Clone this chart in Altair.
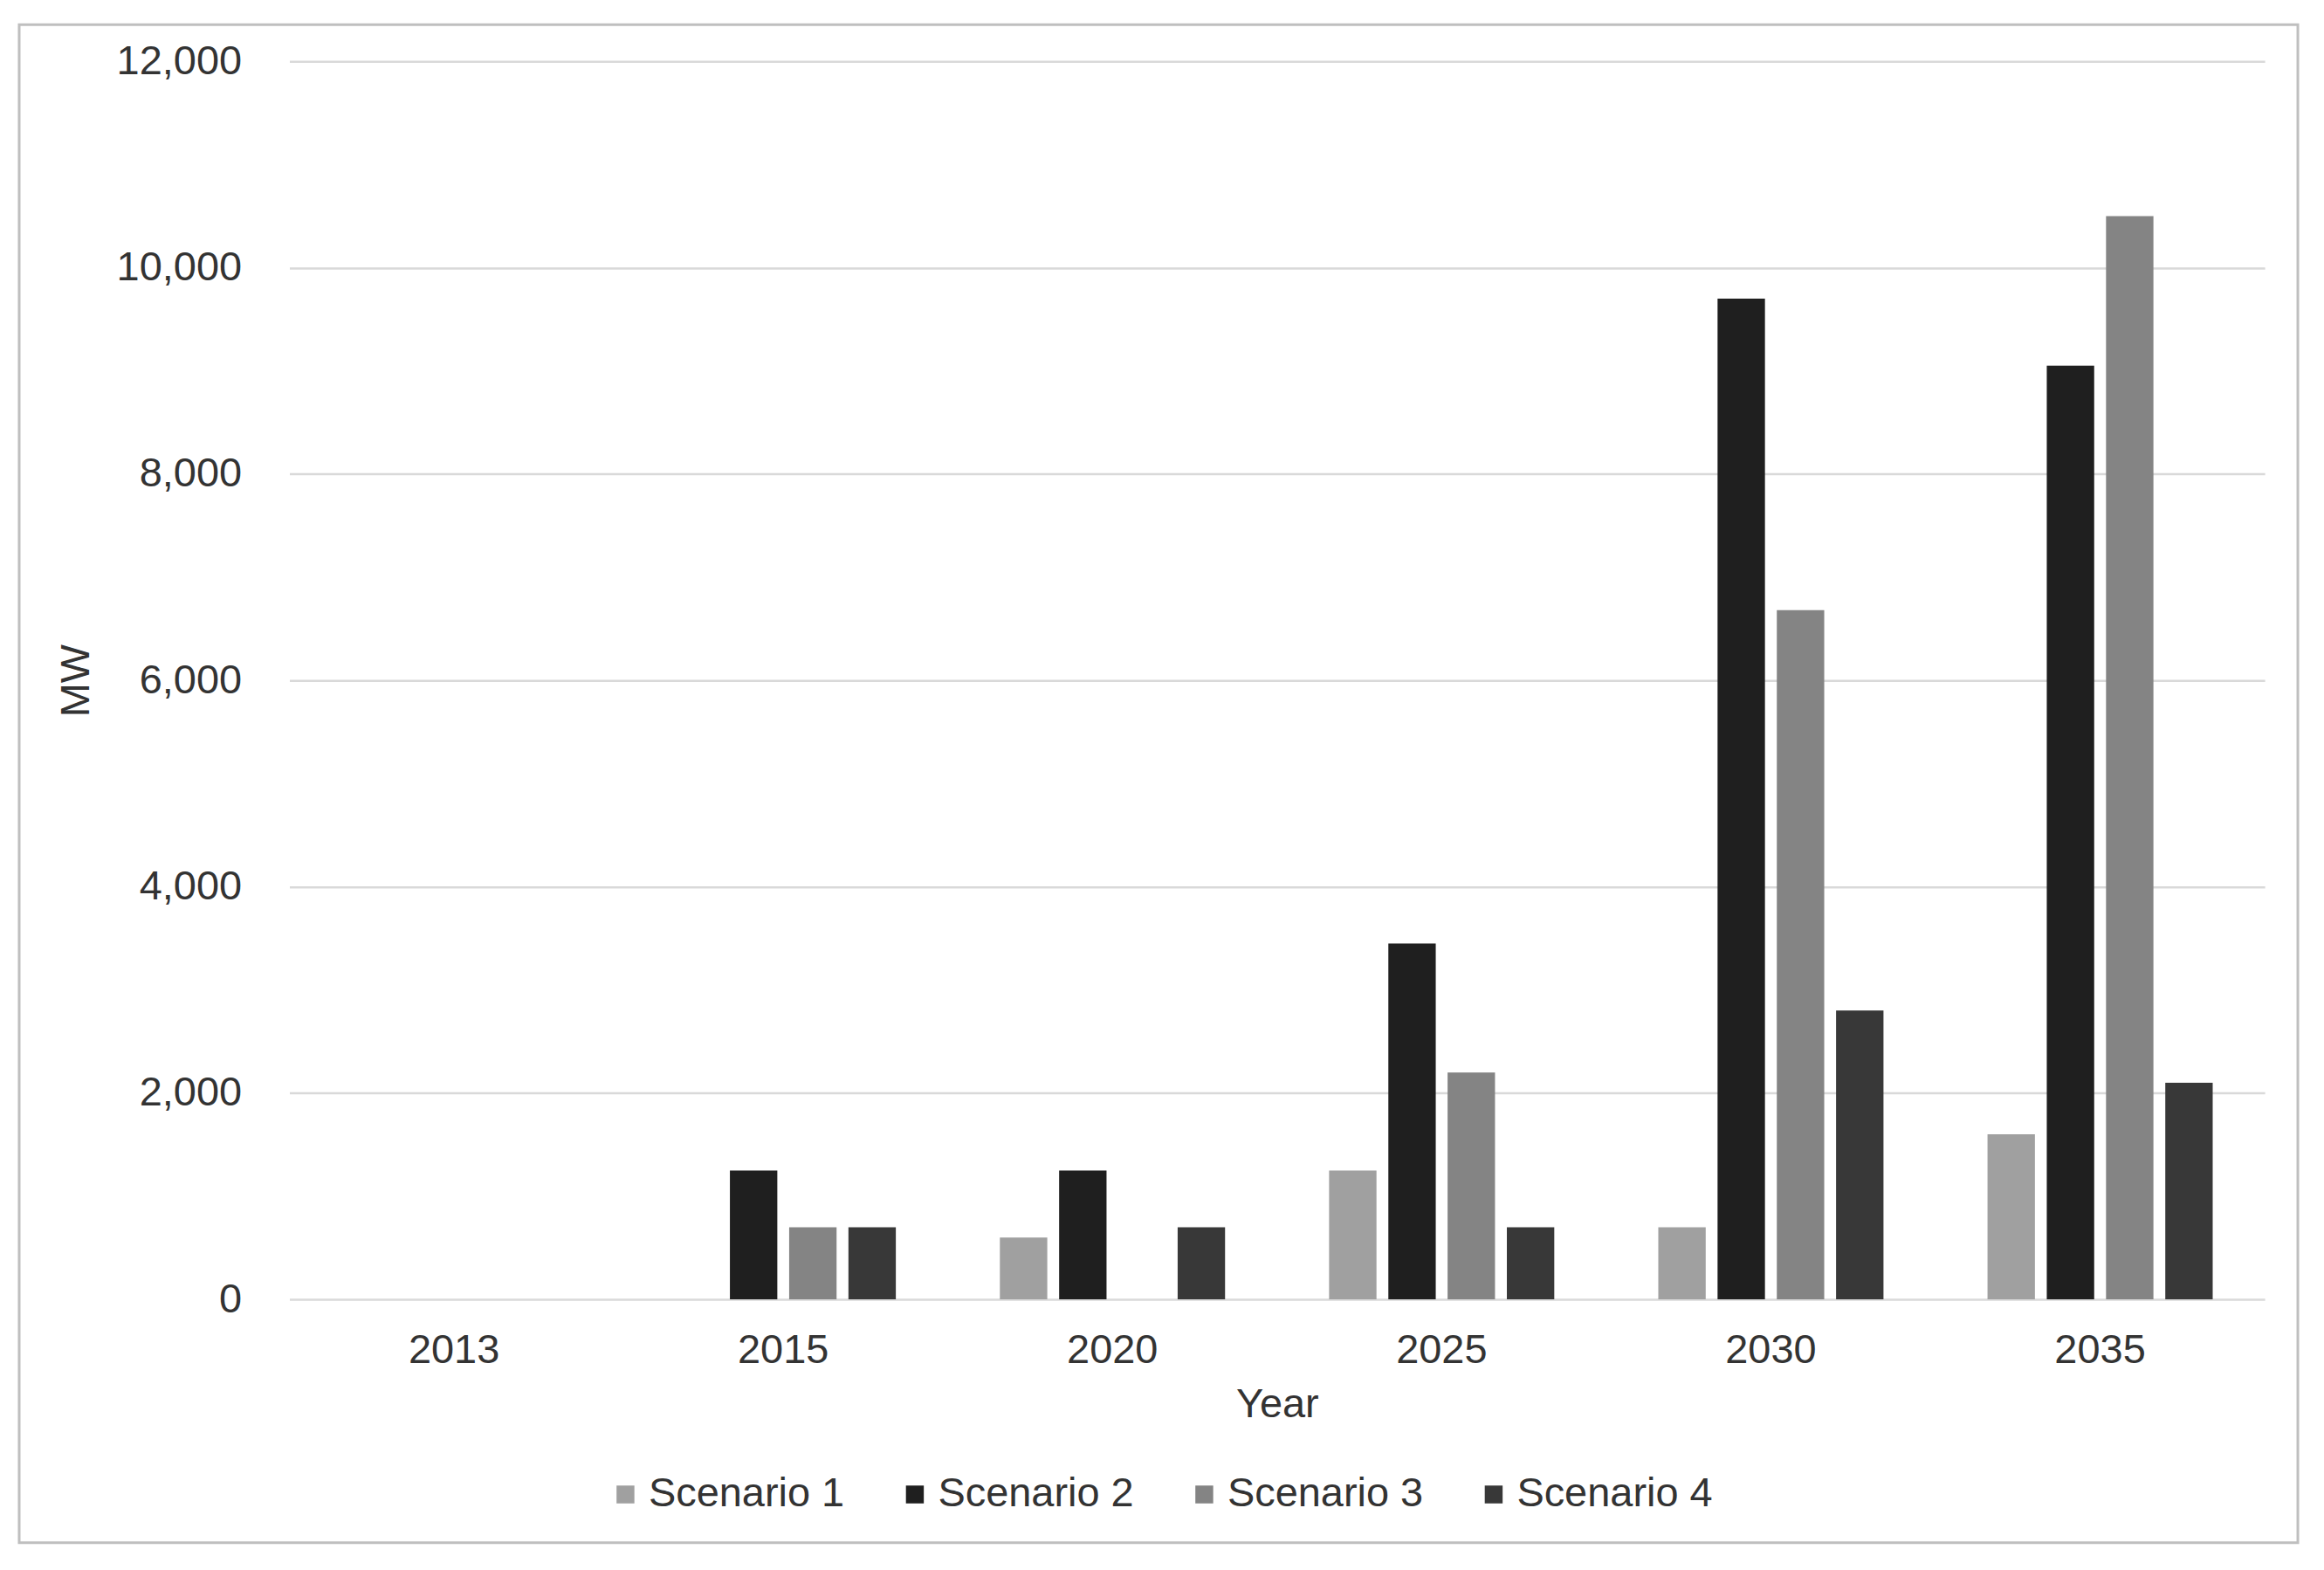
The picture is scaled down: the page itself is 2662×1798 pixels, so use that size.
import altair as alt
import pandas as pd

years = ["2013", "2015", "2020", "2025", "2030", "2035"]
scenarios = ["Scenario 1", "Scenario 2", "Scenario 3", "Scenario 4"]
s1 = [0, 0, 600, 1250, 700, 1600]
s2 = [0, 1250, 1250, 3450, 9700, 9050]
s3 = [0, 700, 0, 2200, 6680, 10500]
s4 = [0, 700, 700, 700, 2800, 2100]
colors = ["#a0a0a0", "#1f1f1f", "#848484", "#383838"]
y_ticks = [0, 2000, 4000, 6000, 8000, 10000, 12000]

rows = []
for name, vals in zip(scenarios, [s1, s2, s3, s4]):
    for yr, v in zip(years, vals):
        rows.append({"Year": yr, "Scenario": name, "MW": v})
df = pd.DataFrame(rows)

FONT = "Liberation Sans"
FS = 47
TXT = "#333333"

bars = alt.Chart(df).mark_bar().encode(
    x=alt.X(
        "Year:N", sort=years,
        scale=alt.Scale(paddingInner=0.28, paddingOuter=0.14),
        axis=alt.Axis(title="Year", labelAngle=0, ticks=False, domain=False,
                      labelPadding=36, labelFontSize=FS, labelFont=FONT, labelColor=TXT,
                      titleFontSize=FS, titleFont=FONT, titleColor=TXT, titleFontWeight="normal",
                      titleY=121, titleBaseline="middle", grid=False),
    ),
    xOffset=alt.XOffset("Scenario:N", sort=scenarios,
                        scale=alt.Scale(paddingInner=0.2, paddingOuter=0.1)),
    y=alt.Y(
        "MW:Q", scale=alt.Scale(domain=[0, 12000], nice=False),
        axis=alt.Axis(title="MW", values=y_ticks, format=",.0f", ticks=False, domain=False,
                      labelPadding=55, labelFontSize=FS, labelFont=FONT, labelColor=TXT,
                      titleFontSize=FS, titleFont=FONT, titleColor=TXT, titleFontWeight="normal",
                      titleX=-244, titleY=710, titleAlign="center", titleBaseline="middle",
                      grid=True, gridColor="#d9d9d9", gridWidth=2.5),
    ),
    color=alt.Color(
        "Scenario:N", scale=alt.Scale(domain=scenarios, range=colors),
        legend=alt.Legend(orient="none", legendX=362, legendY=1620, direction="horizontal",
                          columns=4, title=None, symbolType="square", symbolSize=420,
                          symbolStrokeWidth=0, labelFontSize=FS, labelFont=FONT,
                          labelColor=TXT, labelOffset=3, columnPadding=57, labelLimit=500),
    ),
)

frame = alt.Chart(pd.DataFrame({"a": [0]})).mark_rect(
    filled=False, stroke="#bfbfbf", strokeWidth=3
).encode(x=alt.value(-310), x2=alt.value(2304), y=alt.value(-42), y2=alt.value(1699))

chart = alt.layer(frame, bars).properties(
    width=2266, height=1420,
    padding={"left": 324, "top": 61, "right": 60, "bottom": 290},
    autosize=alt.AutoSizeParams(type="none"),
    background="white",
).configure_view(stroke=None)

chart.save("out.html", embed_options={"renderer": "svg", "actions": False})
